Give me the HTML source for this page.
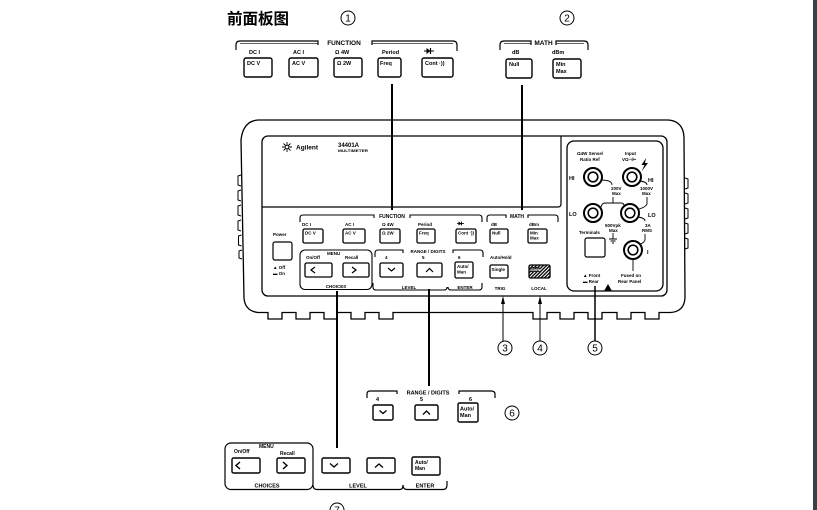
<!DOCTYPE html>
<html><head><meta charset="utf-8"><style>
html,body{margin:0;padding:0;background:#fff;}
svg{display:block}
text{font-family:"Liberation Sans",Arial,sans-serif;font-weight:bold;fill:#000}
</style></head><body>
<svg width="817" height="510" viewBox="0 0 817 510" xmlns="http://www.w3.org/2000/svg">
<defs>
<pattern id="h" width="2.4" height="2.4" patternUnits="userSpaceOnUse" patternTransform="rotate(45)"><rect width="2.4" height="2.4" fill="#fff"/><rect width="1.3" height="2.4" fill="#000"/></pattern>
</defs>
<rect x="0" y="0" width="817" height="510" fill="#fff"/>
<rect x="813" y="0" width="4" height="510" fill="#3c3f42"/>

<!-- title -->
<text x="227" y="24" font-size="15.5" style="font-family:'Liberation Sans','Noto Sans CJK SC',sans-serif">前面板图</text>

<!-- circled numbers -->
<g fill="none" stroke="#000" stroke-width="1">
<circle cx="348" cy="18" r="7"/>
<circle cx="567" cy="18" r="7"/>
<circle cx="505" cy="348" r="7"/>
<circle cx="540" cy="348" r="7"/>
<circle cx="595" cy="348" r="7"/>
<circle cx="512" cy="413" r="7"/>
<circle cx="337" cy="510" r="7"/>
</g>
<g font-size="10" text-anchor="middle">
<text x="348" y="21.5" style="font-weight:normal">1</text>
<text x="567" y="21.5" style="font-weight:normal">2</text>
<text x="505" y="351.5" style="font-weight:normal">3</text>
<text x="540" y="351.5" style="font-weight:normal">4</text>
<text x="595" y="351.5" style="font-weight:normal">5</text>
<text x="512" y="416.5" style="font-weight:normal">6</text>
<text x="337" y="513.5" style="font-weight:normal">7</text>
</g>

<!-- TOP FUNCTION group -->
<g fill="none" stroke="#000" stroke-width="1.2">
<path d="M236,50 L236,45 Q236,41 240,41 L318,41 L318,45"/>
<path d="M240,43.3 L318,43.3" stroke-width="0.7"/>
<path d="M372,45 L372,41 L453,41 Q457,41 457,45 L457,51"/>
<path d="M372,43.3 L453,43.3" stroke-width="0.7"/>
<rect x="244" y="58" width="28" height="19" rx="2" stroke-width="1.4"/>
<rect x="289" y="58" width="29" height="19" rx="2" stroke-width="1.4"/>
<rect x="334" y="58" width="28" height="19" rx="2" stroke-width="1.4"/>
<rect x="378" y="58" width="23" height="19" rx="2" stroke-width="1.4"/>
<rect x="422" y="58" width="31" height="19" rx="2" stroke-width="1.4"/>
<path d="M424,51 L434,51" stroke-width="1"/>
<path d="M430.5,48 L430.5,54" stroke-width="1.2"/>
</g>
<path d="M426.5,48 L430.5,51 L426.5,54 Z" fill="#000"/>
<text x="344" y="45" font-size="6.5" text-anchor="middle">FUNCTION</text>
<g font-size="5.5">
<text x="249" y="54">DC I</text>
<text x="293" y="54">AC I</text>
<text x="335" y="54">Ω 4W</text>
<text x="382" y="54">Period</text>
<text x="247" y="65">DC V</text>
<text x="292" y="65">AC V</text>
<text x="337" y="65">Ω 2W</text>
<text x="380" y="65">Freq</text>
<text x="425" y="65">Cont ·))</text>
</g>

<!-- TOP MATH group -->
<g fill="none" stroke="#000" stroke-width="1.2">
<path d="M500,50 L500,45 Q500,41 504,41 L531,41 L531,45"/>
<path d="M504,43.3 L531,43.3" stroke-width="0.7"/>
<path d="M556,45 L556,41 L584,41 Q588,41 588,45 L588,50"/>
<path d="M556,43.3 L584,43.3" stroke-width="0.7"/>
<rect x="506" y="59" width="26" height="19" rx="2" stroke-width="1.4"/>
<rect x="553" y="59" width="28" height="19" rx="2" stroke-width="1.4"/>
</g>
<text x="543.5" y="45" font-size="6.5" text-anchor="middle">MATH</text>
<g font-size="5.5">
<text x="512" y="54">dB</text>
<text x="552" y="54">dBm</text>
<text x="509" y="66">Null</text>
<text x="556" y="66">Min</text>
<text x="556" y="73">Max</text>
</g>

<!-- connector lines -->
<g stroke="#000" stroke-width="2" fill="none">
<path d="M392,84 L392,210"/>
<path d="M522,85 L522,210"/>
<path d="M337,291 L337,448"/>
<path d="M429,289 L429,386"/>
<path d="M595,286 L595,341" stroke-width="1.5"/>
<path d="M503,341 L503,302" stroke-width="1"/>
<path d="M540,341 L540,302" stroke-width="1"/>
</g>
<path d="M503,296 L501,304 L505,304 Z M540,296 L538,304 L542,304 Z" fill="#000"/>

<!-- OUTER CASE -->
<g fill="none" stroke="#000" stroke-width="1.3">
<path d="M258,120 L668,120 Q683,121 684,137 L685,298 Q684,312 670,312.5 L659,312.5 L659,319 L645,319 L645,312.5 L631,312.5 L631,319 L617,319 L617,312.5 L602,312.5 L602,319 L588,319 L588,312.5 L574,312.5 L574,319 L560,319 L560,312.5 L547,312.5 L547,319 L533,319 L533,312.5 L393,312.5 L393,319 L379,319 L379,312.5 L365,312.5 L365,319 L351,319 L351,312.5 L337,312.5 L337,319 L324,319 L324,312.5 L310,312.5 L310,319 L296,319 L296,312.5 L282,312.5 L282,319 L268,319 L268,312.5 L258,312.5 Q245,311 244,298 L241,140 Q243,121 258,120 Z"/>
<path d="M241,175 L238,176 L238,185 L241,186 M241,190 L238,191 L238,200 L241,201 M241,205 L238,206 L238,215 L241,216 M241,220 L238,221 L238,230 L241,231 M241.5,235 L238.5,236 L238.5,245 L241.5,246 M242,250 L239,251 L239,258 L242,259" stroke-width="1"/>
<path d="M685,178 L688,179 L688,188 L685,189 M685,193 L688,194 L688,203 L685,204 M685,208 L688,209 L688,218 L685,219 M685,223 L688,224 L688,233 L685,234 M685,238 L688,239 L688,248 L685,249" stroke-width="1"/>
<rect x="262" y="136" width="405" height="160" rx="6" stroke-width="1.3"/>
<path d="M262,207 L558,207 Q561,207 561,204 L561,136" stroke-width="1.2"/>
<rect x="567" y="141" width="96" height="150" rx="7" stroke-width="1.3"/>
</g>

<!-- logo -->
<g stroke="#000" stroke-width="0.9">
<path d="M282,147 L292,147 M287,142 L287,152 M283.5,143.5 L290.5,150.5 M290.5,143.5 L283.5,150.5"/>
</g>
<circle cx="287" cy="147" r="1.8" fill="#fff" stroke="#000" stroke-width="0.8"/>
<text x="296" y="149.5" font-size="6.5">Agilent</text>
<text x="338" y="147" font-size="6">34401A</text>
<text x="338" y="152" font-size="3.5" textLength="30" lengthAdjust="spacingAndGlyphs">MULTIMETER</text>

<!-- PANEL FUNCTION / MATH -->
<g fill="none" stroke="#000" stroke-width="1.1">
<path d="M300,222 L300,218 Q300,215 303,215 L374,215 L374,218"/>
<path d="M410,218 L410,215 L479,215 Q482,215 482,218 L482,222"/>
<path d="M487,222 L487,218 Q487,215 490,215 L506,215 L506,218"/>
<path d="M528,218 L528,215 L555,215 Q558,215 558,218 L558,222"/>
<rect x="303" y="229" width="20" height="14" rx="1.5" stroke-width="1.3"/>
<rect x="343" y="229" width="22" height="14" rx="1.5" stroke-width="1.3"/>
<rect x="380" y="229" width="20" height="14" rx="1.5" stroke-width="1.3"/>
<rect x="417" y="229" width="18" height="14" rx="1.5" stroke-width="1.3"/>
<rect x="456" y="229" width="20" height="14" rx="1.5" stroke-width="1.3"/>
<rect x="490" y="229" width="18" height="14" rx="1.5" stroke-width="1.3"/>
<rect x="528" y="229" width="19" height="14" rx="1.5" stroke-width="1.3"/>
<path d="M457,223.5 L464,223.5" stroke-width="0.8"/>
<path d="M461.5,221.5 L461.5,225.5" stroke-width="0.9"/>
</g>
<path d="M458.5,221.5 L461.5,223.5 L458.5,225.5 Z" fill="#000"/>
<text x="392" y="218" font-size="5" text-anchor="middle">FUNCTION</text>
<text x="517" y="218" font-size="5" text-anchor="middle">MATH</text>
<g font-size="4.5">
<text x="302" y="226">DC I</text>
<text x="345" y="226">AC I</text>
<text x="382" y="226">Ω 4W</text>
<text x="418" y="226">Period</text>
<text x="491" y="226">dB</text>
<text x="529" y="226">dBm</text>
<text x="305" y="234.5">DC V</text>
<text x="345" y="234.5">AC V</text>
<text x="382" y="234.5">Ω 2W</text>
<text x="419" y="234.5">Freq</text>
<text x="458" y="234.5">Cont ·))</text>
<text x="492" y="234.5">Null</text>
<text x="530" y="234.5">Min</text>
<text x="530" y="239.5">Max</text>
</g>

<!-- power -->
<text x="273" y="236" font-size="4.5">Power</text>
<rect x="273" y="242" width="19" height="18" rx="2" fill="none" stroke="#000" stroke-width="1.2"/>
<text x="273" y="269" font-size="4.5">▲ Off</text>
<text x="273" y="275" font-size="4.5">▬ On</text>

<!-- menu on panel -->
<g fill="none" stroke="#000" stroke-width="1.1">
<rect x="300" y="250" width="72" height="39.5" rx="5"/>
<rect x="305" y="263" width="27" height="14" rx="1.5" stroke-width="1.3"/>
<rect x="343" y="263" width="26" height="14" rx="1.5" stroke-width="1.3"/>
<path d="M315,267 L311,270 L315,273 M352,267 L356,270 L352,273" stroke-width="1.2"/>
<path d="M375,257 L375,253 Q375,250 378,250 L403,250 L403,253"/>
<path d="M453,253 L453,250 L480,250 Q483,250 483,253 L483,257"/>
<rect x="380" y="263" width="23" height="14" rx="1.5" stroke-width="1.3"/>
<rect x="417" y="263" width="25" height="14" rx="1.5" stroke-width="1.3"/>
<rect x="455" y="262" width="18" height="16" rx="1.5" stroke-width="1.3"/>
<path d="M388,268 L391.5,271 L395,268 M426,272 L429.5,268.5 L433,272" stroke-width="1.2"/>
<path d="M373,283 L373,287 Q373,290 376,290 L444,290 Q447,290 447,287"/>
<path d="M448,287 Q448,290 451,290 L479,290 Q482,290 482,287 L482,283"/>
<rect x="490" y="265" width="18" height="13" rx="1.5" stroke-width="1.3"/>
</g>
<rect x="529" y="265" width="21" height="13" rx="1.5" fill="url(#h)" stroke="#000" stroke-width="1.3"/>
<g font-size="4.5">
<text x="306" y="259">On/Off</text>
<text x="327" y="255">MENU</text>
<text x="345" y="259">Recall</text>
<text x="336" y="288" text-anchor="middle">CHOICES</text>
<text x="428" y="253" text-anchor="middle">RANGE / DIGITS</text>
<text x="385" y="259">4</text>
<text x="422" y="259">5</text>
<text x="458" y="259">6</text>
<text x="457" y="268">Auto/</text>
<text x="457" y="273.5">Man</text>
<text x="409" y="289" text-anchor="middle">LEVEL</text>
<text x="465" y="289" text-anchor="middle">ENTER</text>
<text x="490" y="259">Auto/Hold</text>
<text x="491.5" y="271">Single</text>
<text x="500" y="290" text-anchor="middle">TRIG</text>
<text x="539" y="290" text-anchor="middle">LOCAL</text>
</g>
<rect x="530.5" y="267" width="9" height="5" fill="#222"/>
<text x="531" y="271" font-size="4" style="fill:#fff">Shift</text>

<!-- terminal panel -->
<g font-size="4.5">
<text x="577" y="155">Ω4W Sense/</text>
<text x="580" y="161">Ratio Ref</text>
<text x="625" y="155">Input</text>
<text x="622" y="161">VΩ⊣⊢</text>
<text x="611" y="190">200V</text>
<text x="612" y="195">Max</text>
<text x="640" y="190">1000V</text>
<text x="642" y="195">Max</text>
<text x="605" y="227">500Vpk</text>
<text x="609" y="232">Max</text>
<text x="645" y="227">3A</text>
<text x="642" y="232">RMS</text>
<text x="579" y="234">Terminals</text>
<text x="583" y="277">▲ Front</text>
<text x="583" y="283">▬ Rear</text>
<text x="621" y="277">Fused on</text>
<text x="618" y="283">Rear Panel</text>
</g>
<g font-size="5.5">
<text x="569" y="180">HI</text>
<text x="648" y="182">HI</text>
<text x="569" y="216">LO</text>
<text x="648" y="217">LO</text>
<text x="647" y="254">I</text>
</g>
<path d="M646,158 L641.5,165 L644.5,165 L641.5,171.5 L648,163 L645,163 Z" fill="#000"/>
<g fill="none" stroke="#000">
<circle cx="593" cy="177" r="9" stroke-width="2"/>
<circle cx="593" cy="177" r="4.8" stroke-width="1.6"/>
<circle cx="632" cy="177" r="9" stroke-width="2"/>
<circle cx="632" cy="177" r="4.8" stroke-width="1.6"/>
<circle cx="593" cy="213" r="9" stroke-width="2"/>
<circle cx="593" cy="213" r="4.8" stroke-width="1.6"/>
<circle cx="630" cy="213" r="9" stroke-width="2"/>
<circle cx="630" cy="213" r="4.8" stroke-width="1.6"/>
<circle cx="633" cy="250" r="9" stroke-width="2"/>
<circle cx="633" cy="250" r="4.8" stroke-width="1.6"/>
<rect x="585" y="238" width="20" height="19" rx="2" stroke-width="1.2"/>
<g stroke-width="0.9">
<path d="M601,180 Q612,180 612,185"/>
<path d="M640,181 Q647,182 647,185"/>
<path d="M613,197 L613,203 M601,207 Q602,203 605,203 L621,203 Q624,203 624,206"/>
<path d="M647,197 L647,204 Q646,207 639,209"/>
<path d="M638,217 Q645,218 645,221"/>
<path d="M645,234 L645,240 Q644,243 640,244"/>
<path d="M633,259 L633,271"/>
<path d="M613,233 L613,239 M609,239 L617,239 M610.5,241 L615.5,241 M612,243 L614,243"/>
</g>
</g>
<path d="M608,284 L604,291 L612,291 Z" fill="#000"/>

<!-- bottom RANGE/DIGITS group -->
<g fill="none" stroke="#000" stroke-width="1.2">
<path d="M367,398 L367,394 Q367,391 370,391 L397,391 L397,394"/>
<path d="M459,394 L459,391 L491,391 Q495,391 495,394 L495,398"/>
<rect x="373" y="405" width="20" height="15" rx="1.5" stroke-width="1.4"/>
<rect x="415" y="405" width="23" height="15" rx="1.5" stroke-width="1.4"/>
<rect x="458" y="403" width="20" height="19" rx="1.5" stroke-width="1.4"/>
<path d="M379.5,410.5 L383,413.5 L386.5,410.5 M423,414.5 L426.5,411 L430,414.5" stroke-width="1.3"/>
</g>
<text x="428" y="394.5" font-size="5.5" text-anchor="middle">RANGE / DIGITS</text>
<g font-size="5.5">
<text x="376" y="401">4</text>
<text x="420" y="401">5</text>
<text x="469" y="401">6</text>
<text x="460" y="410.5">Auto/</text>
<text x="460" y="417">Man</text>
</g>

<!-- bottom MENU group -->
<g fill="none" stroke="#000" stroke-width="1.2">
<rect x="225" y="443" width="88" height="46.5" rx="6"/>
<rect x="232" y="458" width="28" height="15" rx="1.5" stroke-width="1.4"/>
<rect x="277" y="458" width="28" height="15" rx="1.5" stroke-width="1.4"/>
<rect x="322" y="458" width="28" height="15" rx="1.5" stroke-width="1.4"/>
<rect x="367" y="458" width="28" height="15" rx="1.5" stroke-width="1.4"/>
<rect x="412" y="457" width="28" height="18" rx="1.5" stroke-width="1.4"/>
<path d="M240,462 L236,465.5 L240,469 M283,462 L287,465.5 L283,469" stroke-width="1.4"/>
<path d="M330,463.5 L334,467 L338,463.5 M375,467.5 L379,464 L383,467.5" stroke-width="1.3"/>
<path d="M313,485 Q313,489.5 317,489.5 L400,489.5 Q403,489.5 403,485"/>
<path d="M403,485 Q403,489.5 407,489.5 L443,489.5 Q447,489.5 447,485 L447,481"/>
</g>
<g font-size="5">
<text x="234" y="453">On/Off</text>
<text x="259" y="448">MENU</text>
<text x="280" y="455">Recall</text>
<text x="415" y="464">Auto/</text>
<text x="415" y="470">Man</text>
</g>
<g font-size="5.5">
<text x="267" y="487.5" text-anchor="middle">CHOICES</text>
<text x="358" y="487.5" text-anchor="middle">LEVEL</text>
<text x="425" y="487.5" text-anchor="middle">ENTER</text>
</g>
</svg>
</body></html>
